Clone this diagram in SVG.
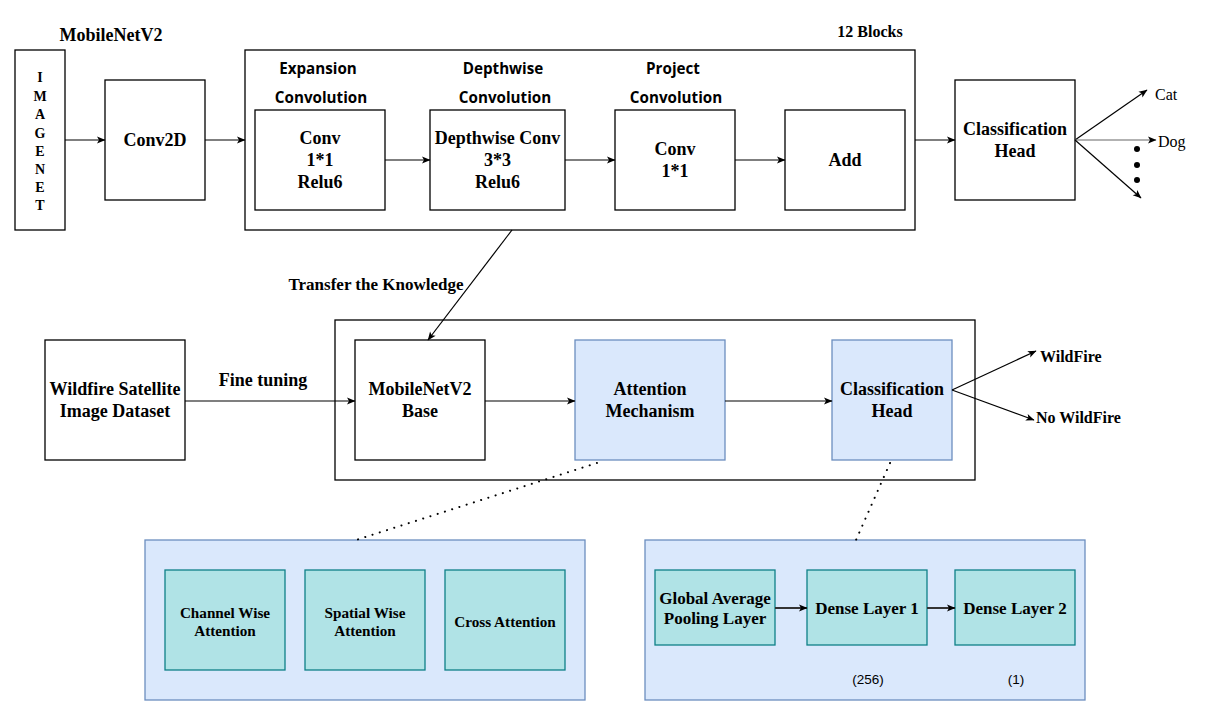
<svg xmlns="http://www.w3.org/2000/svg" width="1212" height="716" viewBox="0 0 1212 716">
<defs>
<marker id="arr" markerWidth="10" markerHeight="10" refX="9" refY="5" orient="auto" markerUnits="userSpaceOnUse">
<path d="M1,1.5 L9.5,5 L1,8.5 L3,5 z" fill="#000"/>
</marker>
<style>
.box{fill:#fff;stroke:#000;stroke-width:1.3}
.blue{fill:#dae8fc;stroke:#6c8ebf;stroke-width:1.3}
.teal{fill:#b0e3e6;stroke:#0e8088;stroke-width:1.3}
.t{font-family:"Liberation Serif","Times New Roman",serif;font-weight:bold;font-size:18px;fill:#000;text-anchor:middle;dominant-baseline:central}
.s{font-size:15.2px}
.m{font-size:16px}
.k{font-size:17px}
.l{font-family:"Open Sans","Noto Sans",sans-serif;font-weight:bold;font-size:15.2px;fill:#000;text-anchor:middle;dominant-baseline:central}
.r{font-family:"Liberation Serif","Times New Roman",serif;font-size:16px;fill:#000;dominant-baseline:central}
.n{font-family:"Liberation Sans",Arial,sans-serif;font-size:13.5px;fill:#000;text-anchor:middle;dominant-baseline:central}
.c{fill:none;stroke:#000;stroke-width:1.2;marker-end:url(#arr)}
.d{fill:none;stroke:#000;stroke-width:2;stroke-dasharray:0.1 7.5;stroke-linecap:round}
</style>
</defs>
<rect width="1212" height="716" fill="#fff"/>

<text class="t" x="111" y="35">MobileNetV2</text>
<text class="t m" x="870" y="31">12 Blocks</text>

<g id="imagenet">
<rect class="box" x="15" y="50" width="50" height="180"/>
<text class="t" style="font-size:14px" x="40" y="77">I</text>
<text class="t" style="font-size:14px" x="40" y="96">M</text>
<text class="t" style="font-size:14px" x="40" y="114">A</text>
<text class="t" style="font-size:14px" x="40" y="133">G</text>
<text class="t" style="font-size:14px" x="40" y="151">E</text>
<text class="t" style="font-size:14px" x="40" y="169">N</text>
<text class="t" style="font-size:14px" x="40" y="187">E</text>
<text class="t" style="font-size:14px" x="40" y="205">T</text>
</g>

<g id="conv2d">
<rect class="box" x="105" y="80" width="100" height="120"/>
<text class="t" x="155" y="140">Conv2D</text>
</g>

<g id="blocks">
<rect class="box" x="245" y="50" width="670" height="180"/>
<text class="l" x="318" y="68">Expansion</text>
<text class="l" x="321" y="97">Convolution</text>
<text class="l" x="503" y="68">Depthwise</text>
<text class="l" x="505" y="97">Convolution</text>
<text class="l" x="673" y="68">Project</text>
<text class="l" x="676" y="97">Convolution</text>
</g>

<g id="expconv">
<rect class="box" x="255" y="110" width="130" height="100"/>
<text class="t" x="320" y="138">Conv</text>
<text class="t" x="320" y="160">1*1</text>
<text class="t" x="320" y="182">Relu6</text>
</g>

<g id="dwconv">
<rect class="box" x="430" y="110" width="135" height="100"/>
<text class="t" x="497.5" y="138">Depthwise Conv</text>
<text class="t" x="497.5" y="160">3*3</text>
<text class="t" x="497.5" y="182">Relu6</text>
</g>

<g id="projconv">
<rect class="box" x="615" y="110" width="120" height="100"/>
<text class="t" x="675" y="149">Conv</text>
<text class="t" x="675" y="171">1*1</text>
</g>

<g id="add">
<rect class="box" x="785" y="110" width="120" height="100"/>
<text class="t" x="845" y="160">Add</text>
</g>

<g id="clshead1">
<rect class="box" x="955" y="80" width="120" height="120"/>
<text class="t" x="1015" y="129">Classification</text>
<text class="t" x="1015" y="151">Head</text>
</g>

<g id="outputs1">
<text class="r" x="1155" y="94">Cat</text>
<text class="r" x="1158" y="141">Dog</text>
<circle cx="1137" cy="149" r="3" fill="#000"/>
<circle cx="1137" cy="165" r="3" fill="#000"/>
<circle cx="1137" cy="180" r="3" fill="#000"/>
</g>

<text class="t k" x="376" y="284">Transfer the Knowledge</text>
<text class="t" x="263" y="380">Fine tuning</text>

<g id="dataset">
<rect class="box" x="45" y="340" width="140" height="120"/>
<text class="t" x="115" y="389">Wildfire Satellite</text>
<text class="t" x="115" y="411">Image Dataset</text>
</g>

<g id="finetune">
<rect class="box" x="335" y="320" width="640" height="160"/>
</g>

<g id="base">
<rect class="box" x="355" y="340" width="130" height="120"/>
<text class="t" x="420" y="389">MobileNetV2</text>
<text class="t" x="420" y="411">Base</text>
</g>

<g id="attention">
<rect class="blue" x="575" y="340" width="150" height="120"/>
<text class="t" x="650" y="389">Attention</text>
<text class="t" x="650" y="411">Mechanism</text>
</g>

<g id="clshead2">
<rect class="blue" x="832" y="340" width="120" height="120"/>
<text class="t" x="892" y="389">Classification</text>
<text class="t" x="892" y="411">Head</text>
</g>

<g id="outputs2">
<text class="t m" x="1040" y="356" style="text-anchor:start">WildFire</text>
<text class="t m" x="1036" y="417" style="text-anchor:start">No WildFire</text>
</g>

<g id="attpanel">
<rect class="blue" x="145" y="540" width="440" height="160"/>
<rect class="teal" x="165" y="570" width="120" height="100"/>
<text class="t s" x="225" y="612">Channel Wise</text>
<text class="t s" x="225" y="630">Attention</text>
<rect class="teal" x="305" y="570" width="120" height="100"/>
<text class="t s" x="365" y="612">Spatial Wise</text>
<text class="t s" x="365" y="630">Attention</text>
<rect class="teal" x="445" y="570" width="120" height="100"/>
<text class="t s" x="505" y="621">Cross Attention</text>
</g>

<g id="headpanel">
<rect class="blue" x="645" y="540" width="440" height="160"/>
<rect class="teal" x="655" y="570" width="120" height="75"/>
<text class="t k" x="715" y="598">Global Average</text>
<text class="t k" x="715" y="618">Pooling Layer</text>
<rect class="teal" x="807" y="570" width="120" height="75"/>
<text class="t k" x="867" y="608">Dense Layer 1</text>
<rect class="teal" x="955" y="570" width="120" height="75"/>
<text class="t k" x="1015" y="608">Dense Layer 2</text>
<text class="n" x="868" y="679">(256)</text>
<text class="n" x="1016" y="679">(1)</text>
</g>

<g id="connectors">
<line class="c" x1="65" y1="140" x2="105" y2="140"/>
<line class="c" x1="205" y1="140" x2="245" y2="140"/>
<line class="c" x1="385" y1="160" x2="430" y2="160"/>
<line class="c" x1="565" y1="160" x2="615" y2="160"/>
<line class="c" x1="735" y1="160" x2="785" y2="160"/>
<line class="c" x1="915" y1="140" x2="955" y2="140"/>
<line class="c" x1="1075" y1="140" x2="1147" y2="90"/>
<line class="c" x1="1075" y1="140" x2="1156" y2="140" style="stroke:#666"/>
<line class="c" x1="1075" y1="140" x2="1141" y2="198"/>
<line class="c" x1="512" y1="230" x2="428" y2="340"/>
<line class="c" x1="185" y1="401" x2="355" y2="401"/>
<line class="c" x1="485" y1="401" x2="575" y2="401"/>
<line class="c" x1="725" y1="401" x2="832" y2="401"/>
<line class="c" x1="952" y1="390" x2="1036" y2="351"/>
<line class="c" x1="952" y1="390" x2="1034" y2="420"/>
<line class="c" x1="775" y1="608" x2="807" y2="608" style="stroke:#333;stroke-width:2"/>
<line class="c" x1="927" y1="608" x2="955" y2="608" style="stroke:#333;stroke-width:2"/>
<line class="d" x1="597" y1="463" x2="356" y2="540"/>
<line class="d" x1="890" y1="463" x2="856" y2="540"/>
</g>
</svg>
